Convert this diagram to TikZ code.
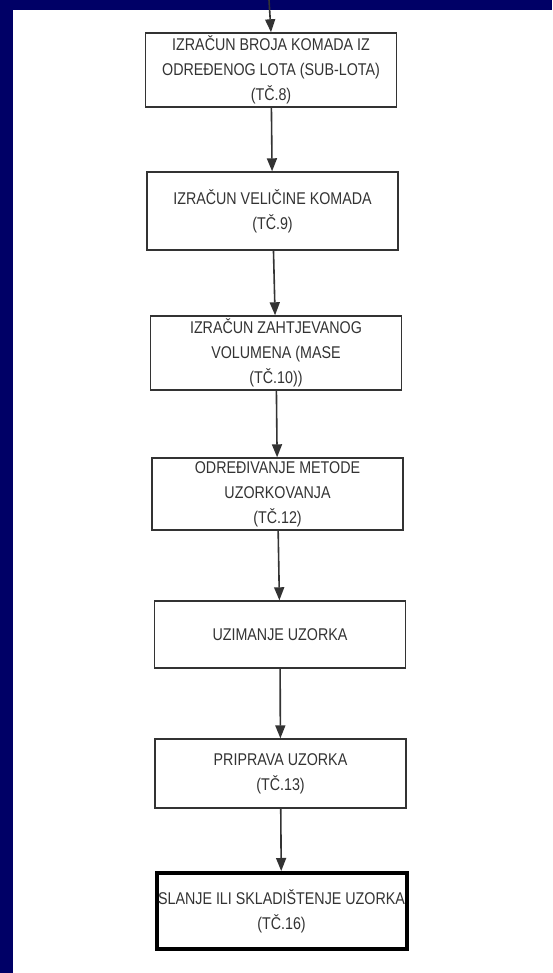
\documentclass[tikz,border=0pt]{standalone}
\usepackage{fontspec}
\setmainfont{Liberation Sans}[FakeStretch=0.84]
\usepackage{tikz}
\usetikzlibrary{arrows.meta,positioning}
\definecolor{framecolor}{HTML}{000066}
\definecolor{inkcolor}{HTML}{333333}

\begin{document}
\begin{tikzpicture}[x=1pt, y=1pt,
  stepbox/.style={draw=inkcolor, line width=1.4pt, text=inkcolor, align=center,
                  minimum width=251pt, inner sep=0pt,
                  font=\fontsize{17}{25}\selectfont},
  flow/.style={draw=inkcolor, line width=1.6pt, -{Triangle[length=13pt,width=10pt]}}]
  % Page and blue frame
  \useasboundingbox (0,0) rectangle (552,973);
  \fill[white] (0,0) rectangle (552,973);
  \fill[framecolor] (0,963) rectangle (552,973);
  \fill[framecolor] (0,0) rectangle (13,973);
  % Steps
  \node[stepbox, minimum height=74pt] (broj)   at (271,903)   {IZRAČUN BROJA KOMADA IZ\\ODREĐENOG LOTA (SUB-LOTA)\\(TČ.8)};
  \node[stepbox, minimum height=78pt] (velic)  at (272.5,762) {IZRAČUN VELIČINE KOMADA\\(TČ.9)};
  \node[stepbox, minimum height=74pt] (volum)  at (276,620)   {IZRAČUN ZAHTJEVANOG\\VOLUMENA (MASE\\(TČ.10))};
  \node[stepbox, minimum height=72pt] (metoda) at (277.5,479) {ODREĐIVANJE METODE\\UZORKOVANJA\\(TČ.12)};
  \node[stepbox, minimum height=67pt] (uzim)   at (280,338.5) {UZIMANJE UZORKA};
  \node[stepbox, minimum height=69pt] (pripr)  at (280.5,199.5) {PRIPRAVA UZORKA\\(TČ.13)};
  \node[stepbox, minimum height=76pt, minimum width=250pt, draw=black, line width=4pt] (slanje) at (281.5,62) {SLANJE ILI SKLADIŠTENJE UZORKA\\(TČ.16)};
  % Arrows
  \coordinate (ulaz) at (269,973);
  \draw[flow] (ulaz) -- (broj.north);
  \draw[flow] (broj) -- (velic);
  \draw[flow] (velic) -- (volum);
  \draw[flow] (volum) -- (metoda);
  \draw[flow] (metoda) -- (uzim);
  \draw[flow] (uzim) -- (pripr);
  \draw[flow] (pripr) -- (slanje);
\end{tikzpicture}
\end{document}
